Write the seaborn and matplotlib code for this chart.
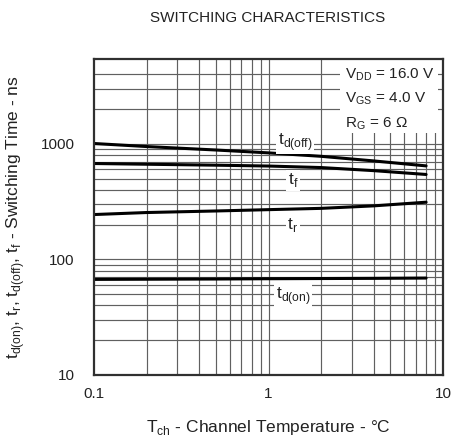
import matplotlib
matplotlib.use("Agg")
import matplotlib.pyplot as plt
import seaborn as sns
import pandas as pd
import numpy as np
from matplotlib.ticker import FixedLocator, NullFormatter, FixedFormatter
from matplotlib.patches import Rectangle

# ---- data ----
x_td_off = [0.1, 0.2, 0.5, 1.0, 2.0, 4.0, 8.0]
y_td_off = [1004, 945, 882, 833, 778, 710, 643]
x_tf = [0.1, 0.5, 1.0, 2.0, 4.0, 8.0]
y_tf = [674, 652, 641, 622, 585, 542]
x_tr = [0.1, 0.2, 0.5, 1.0, 2.0, 4.0, 8.0]
y_tr = [244, 254, 262, 269, 276, 290, 312]
x_td_on = [0.1, 0.5, 1.0, 4.0, 8.0]
y_td_on = [67.1, 67.6, 68.0, 68.5, 68.9]

series_names = ["td(off)", "tf", "tr", "td(on)"]
curve_labels = [r"t$_{\mathregular{d(off)}}$", r"t$_{\mathregular{f}}$",
                r"t$_{\mathregular{r}}$", r"t$_{\mathregular{d(on)}}$"]
label_x = [1.42, 1.38, 1.38, 1.38]
label_y = [1037, 484, 198, 48.1]

x_ticks = [0.1, 1, 10]
x_ticklabels = ["0.1", "1", "10"]
y_ticks = [10, 100, 1000]
y_ticklabels = ["10", "100", "1000"]

cond_lines = [r"V$_{\mathregular{DD}}$ = 16.0 V", r"V$_{\mathregular{GS}}$ = 4.0 V",
              r"R$_{\mathregular{G}}$ = 6 $\mathregular{\Omega}$"]

title = "SWITCHING CHARACTERISTICS"
xlabel = r"T$_{\mathregular{ch}}$ - Channel Temperature - °C"
ylabel = (r"t$_{\mathregular{d(on)}}$, t$_{\mathregular{r}}$, t$_{\mathregular{d(off)}}$, "
          r"t$_{\mathregular{f}}$ - Switching Time - ns")

rows = []
for name, xs, ys in zip(series_names,
                        [x_td_off, x_tf, x_tr, x_td_on],
                        [y_td_off, y_tf, y_tr, y_td_on]):
    for a, b in zip(xs, ys):
        rows.append({"series": name, "x": a, "y": b})
df = pd.DataFrame(rows)

sns.set_style("white")
plt.rcParams["font.family"] = ["Liberation Sans", "DejaVu Sans"]
plt.rcParams["mathtext.fontset"] = "custom"
plt.rcParams["mathtext.rm"] = "Liberation Sans"

fig = plt.figure(figsize=(4.54, 4.46), dpi=100)
ax = fig.add_axes([94 / 454, 1 - 375 / 446, 349 / 454, 316 / 446])

sns.lineplot(data=df, x="x", y="y", hue="series", palette=["black"] * 4,
             legend=False, linewidth=2.2, ax=ax, zorder=3, sort=True)

ax.set_xscale("log")
ax.set_yscale("log")
ax.set_xlim(0.1, 10)
ax.set_ylim(10, 5400)

# grid
xminor = [m * d for d in [0.1, 1] for m in range(2, 10)] + [1]
yminor = [m * d for d in [10, 100, 1000] for m in range(2, 10)] + [100, 1000]
yminor = [v for v in yminor if v < 5000]
for v in xminor:
    ax.axvline(v, color="#606060", lw=0.85, zorder=1)
for v in yminor:
    ax.axhline(v, color="#606060", lw=0.85, zorder=1)

ax.xaxis.set_major_locator(FixedLocator(x_ticks))
ax.xaxis.set_major_formatter(FixedFormatter(x_ticklabels))
ax.xaxis.set_minor_formatter(NullFormatter())
ax.yaxis.set_major_locator(FixedLocator(y_ticks))
ax.yaxis.set_major_formatter(FixedFormatter(y_ticklabels))
ax.yaxis.set_minor_formatter(NullFormatter())
ax.tick_params(which="both", length=0, labelsize=11, colors="#222222")
ax.tick_params(axis="y", pad=14)
ax.tick_params(axis="x", pad=9)

for s in ax.spines.values():
    s.set_color("#303030")
    s.set_linewidth(1.6)
    s.set_zorder(5)

# curve labels
for lx, ly, lt in zip(label_x, label_y, curve_labels):
    ax.text(lx, ly, lt, ha="center", va="center", fontsize=12.5, color="#222222",
            zorder=4, bbox=dict(facecolor="white", edgecolor="none", pad=1.0))

# conditions box
ax.add_patch(Rectangle((0.705, 0.766), 0.281, 0.234, transform=ax.transAxes,
                       facecolor="white", edgecolor="none", zorder=2))
for yy, t in zip([0.949, 0.873, 0.794], cond_lines):
    ax.text(0.719, yy, t, transform=ax.transAxes, ha="left", va="center",
            fontsize=11, color="#222222", zorder=4)

fig.text(268 / 454, 1 - 18 / 446, title, ha="center", va="center",
         fontsize=11, color="#222222")
ax.set_xlabel(xlabel, fontsize=12.5, color="#222222", labelpad=12)
ax.set_ylabel(ylabel, fontsize=12.5, color="#222222", labelpad=10)

fig.savefig("out.png", dpi=100)
